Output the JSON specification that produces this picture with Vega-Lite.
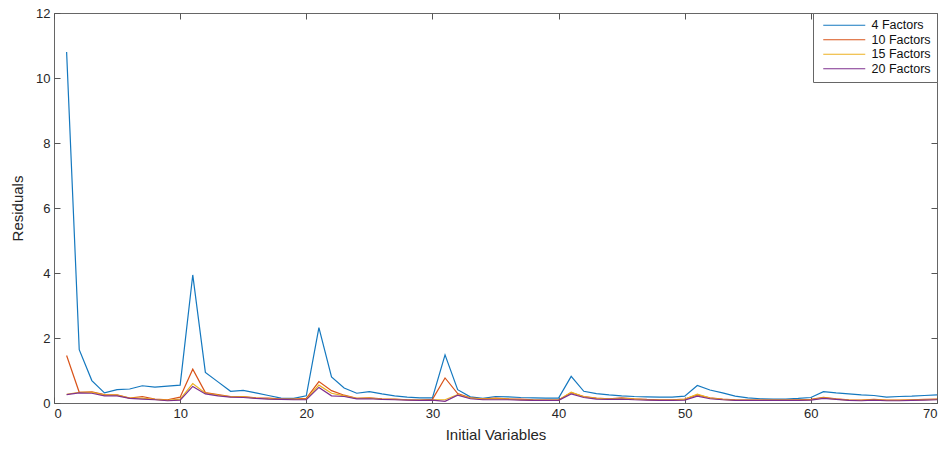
{
  "$schema": "https://vega.github.io/schema/vega-lite/v6.json",
  "width": 883,
  "height": 390,
  "autosize": "none",
  "padding": {"left": 54, "top": 13, "right": 13, "bottom": 47},
  "background": "white",
  "config": {
    "view": {"stroke": "#666", "strokeWidth": 1},
    "font": "Liberation Sans",
    "axis": {
      "grid": false,
      "domainColor": "#666",
      "tickColor": "#555",
      "labelColor": "#262626",
      "titleColor": "#262626",
      "labelFontSize": 13,
      "titleFontSize": 15,
      "titleFontWeight": "normal",
      "labelFont": "Liberation Sans",
      "titleFont": "Liberation Sans",
      "tickSize": -6
    },
    "legend": {
      "orient": "top-right",
      "offset": 0,
      "strokeColor": "#666",
      "fillColor": "white",
      "padding": 6,
      "labelFontSize": 12.5,
      "labelFont": "Liberation Sans",
      "labelColor": "#111",
      "title": null
    }
  },
  "datasets": {
    "f4": [
      {"x":1,"v":10.8},{"x":2,"v":1.64},{"x":3,"v":0.69},{"x":4,"v":0.31},{"x":5,"v":0.41},{"x":6,"v":0.43},{"x":7,"v":0.53},{"x":8,"v":0.49},{"x":9,"v":0.52},{"x":10,"v":0.55},
      {"x":11,"v":3.94},{"x":12,"v":0.94},{"x":13,"v":0.65},{"x":14,"v":0.36},{"x":15,"v":0.39},{"x":16,"v":0.31},{"x":17,"v":0.23},{"x":18,"v":0.15},{"x":19,"v":0.14},{"x":20,"v":0.22},
      {"x":21,"v":2.32},{"x":22,"v":0.8},{"x":23,"v":0.46},{"x":24,"v":0.3},{"x":25,"v":0.35},{"x":26,"v":0.28},{"x":27,"v":0.22},{"x":28,"v":0.18},{"x":29,"v":0.16},{"x":30,"v":0.16},
      {"x":31,"v":1.48},{"x":32,"v":0.41},{"x":33,"v":0.19},{"x":34,"v":0.14},{"x":35,"v":0.2},{"x":36,"v":0.19},{"x":37,"v":0.17},{"x":38,"v":0.16},{"x":39,"v":0.15},{"x":40,"v":0.15},
      {"x":41,"v":0.82},{"x":42,"v":0.36},{"x":43,"v":0.29},{"x":44,"v":0.25},{"x":45,"v":0.22},{"x":46,"v":0.2},{"x":47,"v":0.19},{"x":48,"v":0.18},{"x":49,"v":0.18},{"x":50,"v":0.21},
      {"x":51,"v":0.54},{"x":52,"v":0.4},{"x":53,"v":0.31},{"x":54,"v":0.21},{"x":55,"v":0.16},{"x":56,"v":0.13},{"x":57,"v":0.12},{"x":58,"v":0.12},{"x":59,"v":0.14},{"x":60,"v":0.17},
      {"x":61,"v":0.35},{"x":62,"v":0.31},{"x":63,"v":0.28},{"x":64,"v":0.25},{"x":65,"v":0.23},{"x":66,"v":0.18},{"x":67,"v":0.2},{"x":68,"v":0.21},{"x":69,"v":0.23},{"x":70,"v":0.25}
    ],
    "f10": [
      {"x":1,"v":1.46},{"x":2,"v":0.33},{"x":3,"v":0.34},{"x":4,"v":0.26},{"x":5,"v":0.25},{"x":6,"v":0.15},{"x":7,"v":0.2},{"x":8,"v":0.12},{"x":9,"v":0.1},{"x":10,"v":0.18},
      {"x":11,"v":1.04},{"x":12,"v":0.32},{"x":13,"v":0.26},{"x":14,"v":0.2},{"x":15,"v":0.2},{"x":16,"v":0.16},{"x":17,"v":0.15},{"x":18,"v":0.12},{"x":19,"v":0.12},{"x":20,"v":0.14},
      {"x":21,"v":0.66},{"x":22,"v":0.38},{"x":23,"v":0.24},{"x":24,"v":0.14},{"x":25,"v":0.16},{"x":26,"v":0.13},{"x":27,"v":0.12},{"x":28,"v":0.1},{"x":29,"v":0.09},{"x":30,"v":0.11},
      {"x":31,"v":0.77},{"x":32,"v":0.29},{"x":33,"v":0.16},{"x":34,"v":0.13},{"x":35,"v":0.15},{"x":36,"v":0.13},{"x":37,"v":0.12},{"x":38,"v":0.1},{"x":39,"v":0.09},{"x":40,"v":0.09},
      {"x":41,"v":0.32},{"x":42,"v":0.2},{"x":43,"v":0.15},{"x":44,"v":0.13},{"x":45,"v":0.16},{"x":46,"v":0.13},{"x":47,"v":0.11},{"x":48,"v":0.1},{"x":49,"v":0.1},{"x":50,"v":0.12},
      {"x":51,"v":0.25},{"x":52,"v":0.16},{"x":53,"v":0.12},{"x":54,"v":0.1},{"x":55,"v":0.09},{"x":56,"v":0.09},{"x":57,"v":0.09},{"x":58,"v":0.09},{"x":59,"v":0.1},{"x":60,"v":0.11},
      {"x":61,"v":0.17},{"x":62,"v":0.13},{"x":63,"v":0.1},{"x":64,"v":0.09},{"x":65,"v":0.11},{"x":66,"v":0.09},{"x":67,"v":0.09},{"x":68,"v":0.1},{"x":69,"v":0.11},{"x":70,"v":0.12}
    ],
    "f15": [
      {"x":1,"v":0.27},{"x":2,"v":0.33},{"x":3,"v":0.33},{"x":4,"v":0.24},{"x":5,"v":0.24},{"x":6,"v":0.15},{"x":7,"v":0.15},{"x":8,"v":0.11},{"x":9,"v":0.08},{"x":10,"v":0.12},
      {"x":11,"v":0.6},{"x":12,"v":0.3},{"x":13,"v":0.24},{"x":14,"v":0.19},{"x":15,"v":0.19},{"x":16,"v":0.15},{"x":17,"v":0.13},{"x":18,"v":0.11},{"x":19,"v":0.11},{"x":20,"v":0.12},
      {"x":21,"v":0.55},{"x":22,"v":0.3},{"x":23,"v":0.22},{"x":24,"v":0.14},{"x":25,"v":0.15},{"x":26,"v":0.12},{"x":27,"v":0.11},{"x":28,"v":0.1},{"x":29,"v":0.09},{"x":30,"v":0.1},
      {"x":31,"v":0.1},{"x":32,"v":0.26},{"x":33,"v":0.15},{"x":34,"v":0.12},{"x":35,"v":0.13},{"x":36,"v":0.12},{"x":37,"v":0.1},{"x":38,"v":0.09},{"x":39,"v":0.09},{"x":40,"v":0.09},
      {"x":41,"v":0.33},{"x":42,"v":0.19},{"x":43,"v":0.14},{"x":44,"v":0.12},{"x":45,"v":0.14},{"x":46,"v":0.12},{"x":47,"v":0.1},{"x":48,"v":0.09},{"x":49,"v":0.09},{"x":50,"v":0.11},
      {"x":51,"v":0.27},{"x":52,"v":0.15},{"x":53,"v":0.11},{"x":54,"v":0.09},{"x":55,"v":0.09},{"x":56,"v":0.09},{"x":57,"v":0.09},{"x":58,"v":0.09},{"x":59,"v":0.09},{"x":60,"v":0.1},
      {"x":61,"v":0.16},{"x":62,"v":0.12},{"x":63,"v":0.09},{"x":64,"v":0.08},{"x":65,"v":0.1},{"x":66,"v":0.08},{"x":67,"v":0.08},{"x":68,"v":0.09},{"x":69,"v":0.1},{"x":70,"v":0.11}
    ],
    "f20": [
      {"x":1,"v":0.26},{"x":2,"v":0.31},{"x":3,"v":0.3},{"x":4,"v":0.22},{"x":5,"v":0.22},{"x":6,"v":0.14},{"x":7,"v":0.12},{"x":8,"v":0.1},{"x":9,"v":0.07},{"x":10,"v":0.09},
      {"x":11,"v":0.51},{"x":12,"v":0.28},{"x":13,"v":0.22},{"x":14,"v":0.18},{"x":15,"v":0.17},{"x":16,"v":0.14},{"x":17,"v":0.12},{"x":18,"v":0.11},{"x":19,"v":0.1},{"x":20,"v":0.1},
      {"x":21,"v":0.48},{"x":22,"v":0.22},{"x":23,"v":0.2},{"x":24,"v":0.13},{"x":25,"v":0.13},{"x":26,"v":0.11},{"x":27,"v":0.1},{"x":28,"v":0.09},{"x":29,"v":0.08},{"x":30,"v":0.09},
      {"x":31,"v":0.05},{"x":32,"v":0.24},{"x":33,"v":0.13},{"x":34,"v":0.1},{"x":35,"v":0.1},{"x":36,"v":0.1},{"x":37,"v":0.09},{"x":38,"v":0.08},{"x":39,"v":0.08},{"x":40,"v":0.08},
      {"x":41,"v":0.28},{"x":42,"v":0.17},{"x":43,"v":0.12},{"x":44,"v":0.11},{"x":45,"v":0.12},{"x":46,"v":0.1},{"x":47,"v":0.09},{"x":48,"v":0.08},{"x":49,"v":0.08},{"x":50,"v":0.09},
      {"x":51,"v":0.21},{"x":52,"v":0.13},{"x":53,"v":0.1},{"x":54,"v":0.08},{"x":55,"v":0.08},{"x":56,"v":0.08},{"x":57,"v":0.08},{"x":58,"v":0.08},{"x":59,"v":0.08},{"x":60,"v":0.09},
      {"x":61,"v":0.14},{"x":62,"v":0.11},{"x":63,"v":0.08},{"x":64,"v":0.07},{"x":65,"v":0.09},{"x":66,"v":0.07},{"x":67,"v":0.07},{"x":68,"v":0.08},{"x":69,"v":0.09},{"x":70,"v":0.1}
    ]
  },
  "resolve": {"axis": {"x": "independent", "y": "independent"}},
  "layer": [
    {
      "data": {"name": "f4"},
      "mark": {"type": "line", "strokeWidth": 1.2},
      "encoding": {
        "x": {"field": "x", "type": "quantitative", "scale": {"domain": [0, 70], "nice": false}, "axis": {"orient": "bottom", "title": "Initial Variables", "values": [0,10,20,30,40,50,60,70], "labelPadding": 10, "titlePadding": 7, "domain": false}},
        "y": {"field": "v", "type": "quantitative", "scale": {"domain": [0, 12], "nice": false}, "axis": {"orient": "left", "title": "Residuals", "values": [0,2,4,6,8,10,12], "labelPadding": 10, "titlePadding": 10, "domain": false}},
        "color": {"datum": "4 Factors", "type": "nominal", "scale": {"domain": ["4 Factors", "10 Factors", "15 Factors", "20 Factors"], "range": ["#1478BF", "#D95319", "#EDB120", "#7E2F8E"]}, "legend": {"symbolType": "M-4.2,0H4.2", "symbolSize": 100, "symbolStrokeWidth": 1.2, "symbolOffset": 19, "labelOffset": 21, "rowPadding": 1.5}}
      }
    },
    {
      "data": {"name": "f10"},
      "mark": {"type": "line", "strokeWidth": 1.2},
      "encoding": {
        "x": {"field": "x", "type": "quantitative", "axis": null},
        "y": {"field": "v", "type": "quantitative", "axis": null},
        "color": {"datum": "10 Factors", "type": "nominal"}
      }
    },
    {
      "data": {"name": "f15"},
      "mark": {"type": "line", "strokeWidth": 1.2},
      "encoding": {
        "x": {"field": "x", "type": "quantitative", "axis": null},
        "y": {"field": "v", "type": "quantitative", "axis": null},
        "color": {"datum": "15 Factors", "type": "nominal"}
      }
    },
    {
      "data": {"name": "f20"},
      "mark": {"type": "line", "strokeWidth": 1.2},
      "encoding": {
        "x": {"field": "x", "type": "quantitative", "axis": {"orient": "top", "title": null, "labels": false, "domain": false, "values": [0,10,20,30,40,50,60,70]}},
        "y": {"field": "v", "type": "quantitative", "axis": {"orient": "right", "title": null, "labels": false, "domain": false, "values": [0,2,4,6,8,10,12]}},
        "color": {"datum": "20 Factors", "type": "nominal"}
      }
    }
  ]
}
